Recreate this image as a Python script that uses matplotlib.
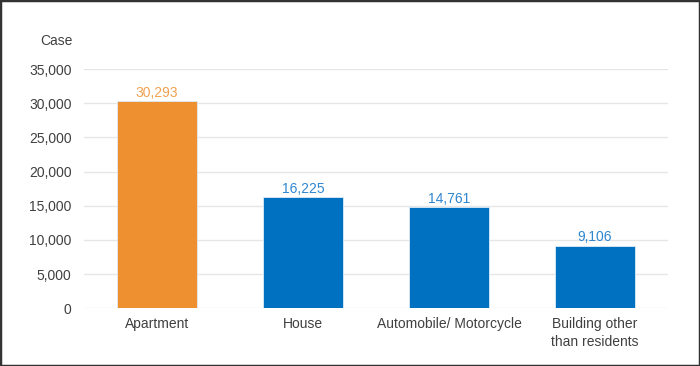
import matplotlib
matplotlib.use("Agg")
import matplotlib.pyplot as plt
from matplotlib.patches import Rectangle
from matplotlib.ticker import FuncFormatter

categories = ["Apartment", "House", "Automobile/ Motorcycle", "Building other\nthan residents"]
values = [30293, 16225, 14761, 9106]
label_text = ["30,293", "16,225", "14,761", "9,106"]
yticks = [0, 5000, 10000, 15000, 20000, 25000, 30000, 35000]

bar_colors = ["#EE9030", "#0070C0", "#0070C0", "#0070C0"]
label_colors = ["#F0A050", "#2E86D0", "#2E86D0", "#2E86D0"]

plt.rcParams['font.family'] = ['Liberation Sans', 'DejaVu Sans']

fig = plt.figure(figsize=(7, 3.66), dpi=100)
ax = fig.add_axes([84 / 700, 0.158, 584 / 700, 0.653])

x = list(range(len(categories)))
bars = ax.bar(x, values, width=0.545, color=bar_colors, edgecolor="#DDEBF7", linewidth=0.6, zorder=3)
for xi, v, t, c in zip(x, values, label_text, label_colors):
    ax.text(xi, v + 250, t, ha="center", va="bottom", fontsize=10, color=c)

ax.set_ylim(0, 35000)
ax.set_xlim(-0.5, len(categories) - 0.5)
ax.set_yticks(yticks)
ax.yaxis.set_major_formatter(FuncFormatter(lambda v, p: f"{int(v):,}"))
ax.set_xticks(x)
ax.set_xticklabels(categories, fontsize=10, color="#404040", linespacing=1.45)
ax.tick_params(axis="y", length=0, labelsize=10, labelcolor="#404040", pad=9)
ax.tick_params(axis="x", length=0, pad=6)
ax.grid(axis="y", color="#E6E6E6", linewidth=1, zorder=0)
for s in ax.spines.values():
    s.set_visible(False)

fig.text(56 / 700, 1 - 41 / 366, "Case", ha="center", va="center", fontsize=10, color="#404040")

fig.patches.append(Rectangle((0, 0), 1, 1, transform=fig.transFigure, fill=False,
                             edgecolor="#333333", linewidth=2.5))

fig.savefig("out.png", dpi=100)
